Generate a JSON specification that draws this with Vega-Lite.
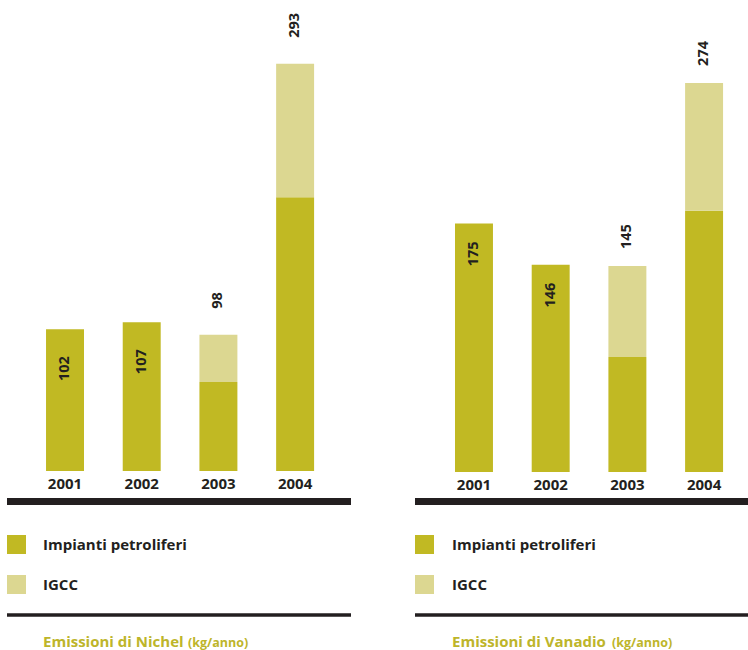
{
  "$schema": "https://vega.github.io/schema/vega-lite/v6.json",
  "padding": {"left": 7, "top": 0, "right": 0, "bottom": 0},
  "spacing": 64,
  "config": {"view": {"stroke": null}, "font": "Open Sans"},
  "datasets": {
    "nichel": [
      {"year": "2001", "series": "Impianti petroliferi", "value": 102},
      {"year": "2002", "series": "Impianti petroliferi", "value": 107},
      {"year": "2003", "series": "Impianti petroliferi", "value": 64},
      {"year": "2003", "series": "IGCC", "value": 34},
      {"year": "2004", "series": "Impianti petroliferi", "value": 197},
      {"year": "2004", "series": "IGCC", "value": 96}
    ],
    "vanadio": [
      {"year": "2001", "series": "Impianti petroliferi", "value": 175},
      {"year": "2002", "series": "Impianti petroliferi", "value": 146},
      {"year": "2003", "series": "Impianti petroliferi", "value": 81},
      {"year": "2003", "series": "IGCC", "value": 64},
      {"year": "2004", "series": "Impianti petroliferi", "value": 184},
      {"year": "2004", "series": "IGCC", "value": 90}
    ],
    "legend": [
      {"series": "Impianti petroliferi"},
      {"series": "IGCC"}
    ]
  },
  "hconcat": [
    {
      "vconcat": [
        {
          "width": 344,
          "height": 505,
          "data": {"name": "nichel"},
          "layer": [
            {
              "mark": {"type": "bar"},
              "encoding": {
                "x": {"field": "year", "type": "ordinal", "scale": {"paddingInner": 0.505, "paddingOuter": 0.495, "align": 0.514}, "axis": null},
                "y": {"field": "value", "type": "quantitative", "stack": "zero", "scale": {"domain": [-24.46, 338.85], "nice": false, "zero": false}, "axis": null},
                "color": {"field": "series", "type": "nominal", "scale": {"domain": ["Impianti petroliferi", "IGCC"], "range": ["#C1B923", "#DCD791"]}, "legend": null},
                "order": {"field": "series", "sort": "descending"}
              }
            },
            {
              "transform": [
                {"aggregate": [{"op": "sum", "field": "value", "as": "total"}, {"op": "count", "as": "n"}], "groupby": ["year"]},
                {"filter": "datum.n == 1"}
              ],
              "mark": {"type": "text", "angle": 270, "align": "right", "baseline": "middle", "dx": -27, "fontSize": 14.5, "fontWeight": "bold", "color": "#231F20"},
              "encoding": {
                "x": {"field": "year", "type": "ordinal"},
                "y": {"field": "total", "type": "quantitative"},
                "text": {"field": "total", "type": "quantitative"}
              }
            },
            {
              "transform": [
                {"aggregate": [{"op": "sum", "field": "value", "as": "total"}, {"op": "count", "as": "n"}], "groupby": ["year"]},
                {"filter": "datum.n == 2"}
              ],
              "mark": {"type": "text", "angle": 270, "align": "left", "baseline": "middle", "dx": 26, "fontSize": 14.5, "fontWeight": "bold", "color": "#231F20"},
              "encoding": {
                "x": {"field": "year", "type": "ordinal"},
                "y": {"field": "total", "type": "quantitative"},
                "text": {"field": "total", "type": "quantitative"}
              }
            },
            {
              "transform": [{"aggregate": [{"op": "count", "as": "n"}], "groupby": ["year"]}],
              "mark": {"type": "text", "align": "center", "baseline": "middle", "fontSize": 15, "fontWeight": "bold", "color": "#231F20"},
              "encoding": {
                "x": {"field": "year", "type": "ordinal"},
                "y": {"datum": -9.35, "type": "quantitative"},
                "text": {"field": "year", "type": "nominal"}
              }
            },
            {
              "data": {"values": [{}]},
              "mark": {"type": "rule", "strokeWidth": 7, "color": "#231F20", "clip": true},
              "encoding": {"y": {"datum": -21.94, "type": "quantitative"}}
            }
          ]
        },
        {
          "width": 344,
          "height": 145,
          "data": {"name": "legend"},
          "layer": [
            {
              "transform": [{"filter": "datum.series == 'Impianti petroliferi'"}],
              "mark": {"type": "point", "shape": "square", "filled": true, "size": 361, "opacity": 1, "strokeWidth": 0},
              "encoding": {
                "x": {"datum": 9.5, "type": "quantitative", "scale": {"domain": [0, 344], "nice": false, "zero": false}, "axis": null},
                "y": {"datum": 39.5, "type": "quantitative", "scale": {"domain": [0, 145], "nice": false, "zero": false, "reverse": true}, "axis": null},
                "color": {"field": "series", "type": "nominal", "legend": null}
              }
            },
            {
              "transform": [{"filter": "datum.series == 'IGCC'"}],
              "mark": {"type": "point", "shape": "square", "filled": true, "size": 361, "opacity": 1, "strokeWidth": 0},
              "encoding": {
                "x": {"datum": 9.5, "type": "quantitative"},
                "y": {"datum": 79.5, "type": "quantitative"},
                "color": {"field": "series", "type": "nominal", "legend": null}
              }
            },
            {
              "transform": [{"filter": "datum.series == 'Impianti petroliferi'"}],
              "mark": {"type": "text", "align": "left", "baseline": "middle", "fontSize": 15, "fontWeight": "bold", "color": "#231F20"},
              "encoding": {
                "x": {"datum": 36, "type": "quantitative"},
                "y": {"datum": 39.5, "type": "quantitative"},
                "text": {"field": "series", "type": "nominal"}
              }
            },
            {
              "transform": [{"filter": "datum.series == 'IGCC'"}],
              "mark": {"type": "text", "align": "left", "baseline": "middle", "fontSize": 15, "fontWeight": "bold", "color": "#231F20"},
              "encoding": {
                "x": {"datum": 36, "type": "quantitative"},
                "y": {"datum": 79.5, "type": "quantitative"},
                "text": {"field": "series", "type": "nominal"}
              }
            },
            {
              "data": {"values": [{}]},
              "mark": {"type": "rule", "strokeWidth": 3.5, "color": "#231F20", "clip": true},
              "encoding": {"y": {"datum": 110, "type": "quantitative"}}
            },
            {
              "data": {"values": [{"title": "Emissioni di Nichel", "unit": "(kg/anno)"}]},
              "mark": {"type": "text", "align": "left", "baseline": "alphabetic", "fontSize": 15, "fontWeight": "bold", "color": "#BDB52A"},
              "encoding": {
                "x": {"datum": 36, "type": "quantitative"},
                "y": {"datum": 142, "type": "quantitative"},
                "text": {"field": "title", "type": "nominal"}
              }
            },
            {
              "data": {"values": [{"title": "Emissioni di Nichel", "unit": "(kg/anno)"}]},
              "mark": {"type": "text", "align": "left", "baseline": "alphabetic", "fontSize": 12.5, "fontWeight": "bold", "color": "#BDB52A"},
              "encoding": {
                "x": {"datum": 181, "type": "quantitative"},
                "y": {"datum": 142, "type": "quantitative"},
                "text": {"field": "unit", "type": "nominal"}
              }
            }
          ]
        }
      ],
      "spacing": 0
    },
    {
      "vconcat": [
        {
          "width": 333,
          "height": 505,
          "data": {"name": "vanadio"},
          "layer": [
            {
              "mark": {"type": "bar"},
              "encoding": {
                "x": {"field": "year", "type": "ordinal", "scale": {"paddingInner": 0.505, "paddingOuter": 0.4233, "align": 0.616}, "axis": null},
                "y": {"field": "value", "type": "quantitative", "stack": "zero", "scale": {"domain": [-23.24, 332.39], "nice": false, "zero": false}, "axis": null},
                "color": {"field": "series", "type": "nominal", "scale": {"domain": ["Impianti petroliferi", "IGCC"], "range": ["#C1B923", "#DCD791"]}, "legend": null},
                "order": {"field": "series", "sort": "descending"}
              }
            },
            {
              "transform": [
                {"aggregate": [{"op": "sum", "field": "value", "as": "total"}, {"op": "count", "as": "n"}], "groupby": ["year"]},
                {"filter": "datum.n == 1"}
              ],
              "mark": {"type": "text", "angle": 270, "align": "right", "baseline": "middle", "dx": -18, "fontSize": 14.5, "fontWeight": "bold", "color": "#231F20"},
              "encoding": {
                "x": {"field": "year", "type": "ordinal"},
                "y": {"field": "total", "type": "quantitative"},
                "text": {"field": "total", "type": "quantitative"}
              }
            },
            {
              "transform": [
                {"aggregate": [{"op": "sum", "field": "value", "as": "total"}, {"op": "count", "as": "n"}], "groupby": ["year"]},
                {"filter": "datum.n == 2"}
              ],
              "mark": {"type": "text", "angle": 270, "align": "left", "baseline": "middle", "dx": 17, "fontSize": 14.5, "fontWeight": "bold", "color": "#231F20"},
              "encoding": {
                "x": {"field": "year", "type": "ordinal"},
                "y": {"field": "total", "type": "quantitative"},
                "text": {"field": "total", "type": "quantitative"}
              }
            },
            {
              "transform": [{"aggregate": [{"op": "count", "as": "n"}], "groupby": ["year"]}],
              "mark": {"type": "text", "align": "center", "baseline": "middle", "fontSize": 15, "fontWeight": "bold", "color": "#231F20"},
              "encoding": {
                "x": {"field": "year", "type": "ordinal"},
                "y": {"datum": -9.15, "type": "quantitative"},
                "text": {"field": "year", "type": "nominal"}
              }
            },
            {
              "data": {"values": [{}]},
              "mark": {"type": "rule", "strokeWidth": 7, "color": "#231F20", "clip": true},
              "encoding": {"y": {"datum": -20.77, "type": "quantitative"}}
            }
          ]
        },
        {
          "width": 333,
          "height": 145,
          "data": {"name": "legend"},
          "layer": [
            {
              "transform": [{"filter": "datum.series == 'Impianti petroliferi'"}],
              "mark": {"type": "point", "shape": "square", "filled": true, "size": 361, "opacity": 1, "strokeWidth": 0},
              "encoding": {
                "x": {"datum": 9.5, "type": "quantitative", "scale": {"domain": [0, 333], "nice": false, "zero": false}, "axis": null},
                "y": {"datum": 39.5, "type": "quantitative", "scale": {"domain": [0, 145], "nice": false, "zero": false, "reverse": true}, "axis": null},
                "color": {"field": "series", "type": "nominal", "legend": null}
              }
            },
            {
              "transform": [{"filter": "datum.series == 'IGCC'"}],
              "mark": {"type": "point", "shape": "square", "filled": true, "size": 361, "opacity": 1, "strokeWidth": 0},
              "encoding": {
                "x": {"datum": 9.5, "type": "quantitative"},
                "y": {"datum": 79.5, "type": "quantitative"},
                "color": {"field": "series", "type": "nominal", "legend": null}
              }
            },
            {
              "transform": [{"filter": "datum.series == 'Impianti petroliferi'"}],
              "mark": {"type": "text", "align": "left", "baseline": "middle", "fontSize": 15, "fontWeight": "bold", "color": "#231F20"},
              "encoding": {
                "x": {"datum": 37, "type": "quantitative"},
                "y": {"datum": 39.5, "type": "quantitative"},
                "text": {"field": "series", "type": "nominal"}
              }
            },
            {
              "transform": [{"filter": "datum.series == 'IGCC'"}],
              "mark": {"type": "text", "align": "left", "baseline": "middle", "fontSize": 15, "fontWeight": "bold", "color": "#231F20"},
              "encoding": {
                "x": {"datum": 37, "type": "quantitative"},
                "y": {"datum": 79.5, "type": "quantitative"},
                "text": {"field": "series", "type": "nominal"}
              }
            },
            {
              "data": {"values": [{}]},
              "mark": {"type": "rule", "strokeWidth": 3.5, "color": "#231F20", "clip": true},
              "encoding": {"y": {"datum": 110, "type": "quantitative"}}
            },
            {
              "data": {"values": [{"title": "Emissioni di Vanadio", "unit": "(kg/anno)"}]},
              "mark": {"type": "text", "align": "left", "baseline": "alphabetic", "fontSize": 15, "fontWeight": "bold", "color": "#BDB52A"},
              "encoding": {
                "x": {"datum": 37, "type": "quantitative"},
                "y": {"datum": 142, "type": "quantitative"},
                "text": {"field": "title", "type": "nominal"}
              }
            },
            {
              "data": {"values": [{"title": "Emissioni di Vanadio", "unit": "(kg/anno)"}]},
              "mark": {"type": "text", "align": "left", "baseline": "alphabetic", "fontSize": 12.5, "fontWeight": "bold", "color": "#BDB52A"},
              "encoding": {
                "x": {"datum": 197, "type": "quantitative"},
                "y": {"datum": 142, "type": "quantitative"},
                "text": {"field": "unit", "type": "nominal"}
              }
            }
          ]
        }
      ],
      "spacing": 0
    }
  ]
}
